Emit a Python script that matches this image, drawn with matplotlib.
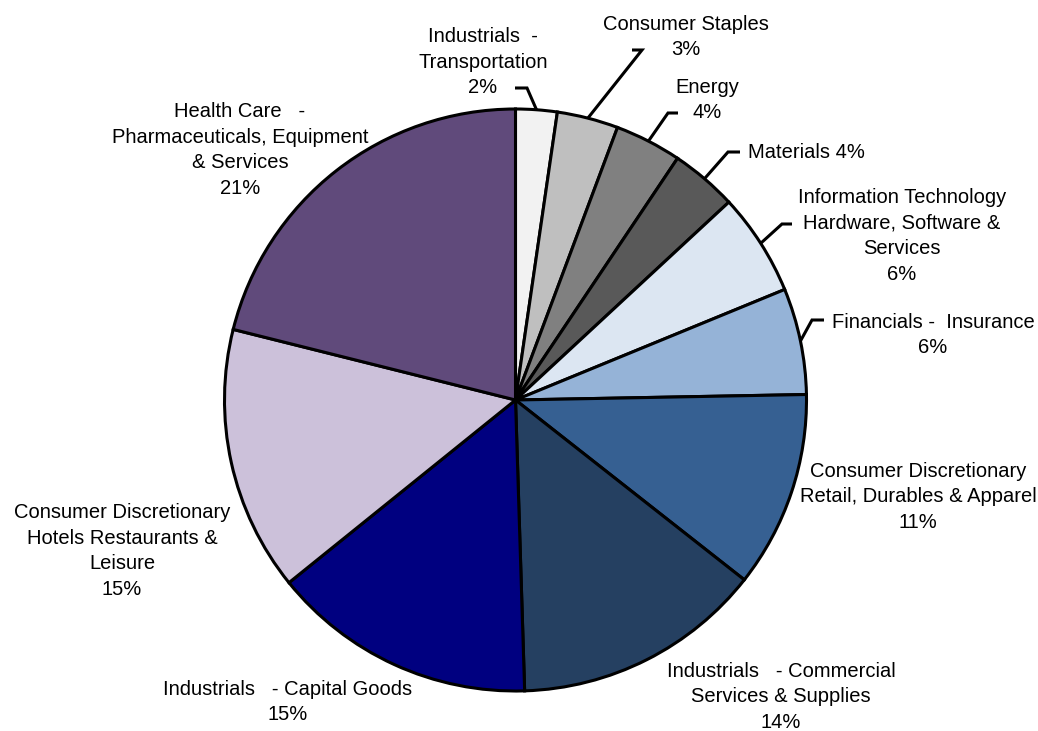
import numpy as np
import matplotlib
matplotlib.use("Agg")
import matplotlib.pyplot as plt

# ---- data ----
sectors = [
    "Industrials  -\nTransportation",
    "Consumer Staples",
    "Energy",
    "Materials",
    "Information Technology\nHardware, Software &\nServices",
    "Financials -  Insurance",
    "Consumer Discretionary\nRetail, Durables & Apparel",
    "Industrials   - Commercial\nServices & Supplies",
    "Industrials   - Capital Goods",
    "Consumer Discretionary\nHotels Restaurants &\nLeisure",
    "Health Care   -\nPharmaceuticals, Equipment\n& Services",
]
weights = [2.3, 3.4, 3.7, 3.7, 5.7, 5.9, 10.9, 13.9, 14.7, 14.7, 21.1]
pct_labels = ["2%", "3%", "4%", "4%", "6%", "6%", "11%", "14%", "15%", "15%", "21%"]
colors = ["#F2F2F2", "#BFBFBF", "#808080", "#595959", "#DCE6F2", "#95B3D7",
          "#366092", "#254061", "#000080", "#CCC1DA", "#604A7B"]

# ---- layout (pixels in a 1038x731 canvas) ----
W, H = 1038, 731
CX, CY, R = 515.5, 400.0, 291.0

def px(x, y):
    return ((x - CX) / R, (CY - y) / R)

# text centre (pixel), separator between name and percent, leader (elbow, end) or None
layout = [
    dict(xy=(483, 62), sep="\n", leader=((527, 88), (515, 88))),
    dict(xy=(686, 37), sep="\n", leader=((642, 50), (632, 50))),
    dict(xy=(707, 100), sep="\n", leader=((668, 113), (678, 113))),
    dict(xy=(806, 152), sep=" ", leader=((728, 152), (740, 152))),
    dict(xy=(902, 236), sep="\n", leader=((782, 224), (792, 224))),
    dict(xy=(933, 335), sep="\n", leader=((812, 320), (824, 320))),
    dict(xy=(918, 497), sep="\n", leader=None),
    dict(xy=(781, 697), sep="\n", leader=None),
    dict(xy=(288, 702), sep="\n", leader=None),
    dict(xy=(122, 551), sep="\n", leader=None),
    dict(xy=(240, 150), sep="\n", leader=None),
]

plt.rcParams['font.family'] = ['Liberation Sans', 'DejaVu Sans']

fig = plt.figure(figsize=(W / 100, H / 100), dpi=100)
ax = fig.add_axes([0, 0, 1, 1])

wedges, _ = ax.pie(weights, colors=colors, startangle=90, counterclock=False,
                   radius=1.0, center=(0, 0),
                   wedgeprops=dict(edgecolor="black", linewidth=2.2))

ax.set_xlim(-CX / R, (W - CX) / R)
ax.set_ylim(-(H - CY) / R, CY / R)
ax.set_aspect("auto")
ax.axis("off")

for w, name, pct, lay in zip(wedges, sectors, pct_labels, layout):
    tx, ty = px(*lay["xy"])
    ax.text(tx, ty, name + lay["sep"] + pct, ha="center", va="center",
            fontsize=14.5, linespacing=1.45, color="black")
    if lay["leader"] is not None:
        mid = np.deg2rad((w.theta1 + w.theta2) / 2.0)
        rx, ry = np.cos(mid), np.sin(mid)
        ex, ey = px(*lay["leader"][0])
        hx, hy = px(*lay["leader"][1])
        ax.plot([rx, ex, hx], [ry, ey, hy], color="black", lw=2.2,
                solid_capstyle="butt", solid_joinstyle="miter")

fig.savefig("out.png", dpi=100, facecolor="white")
